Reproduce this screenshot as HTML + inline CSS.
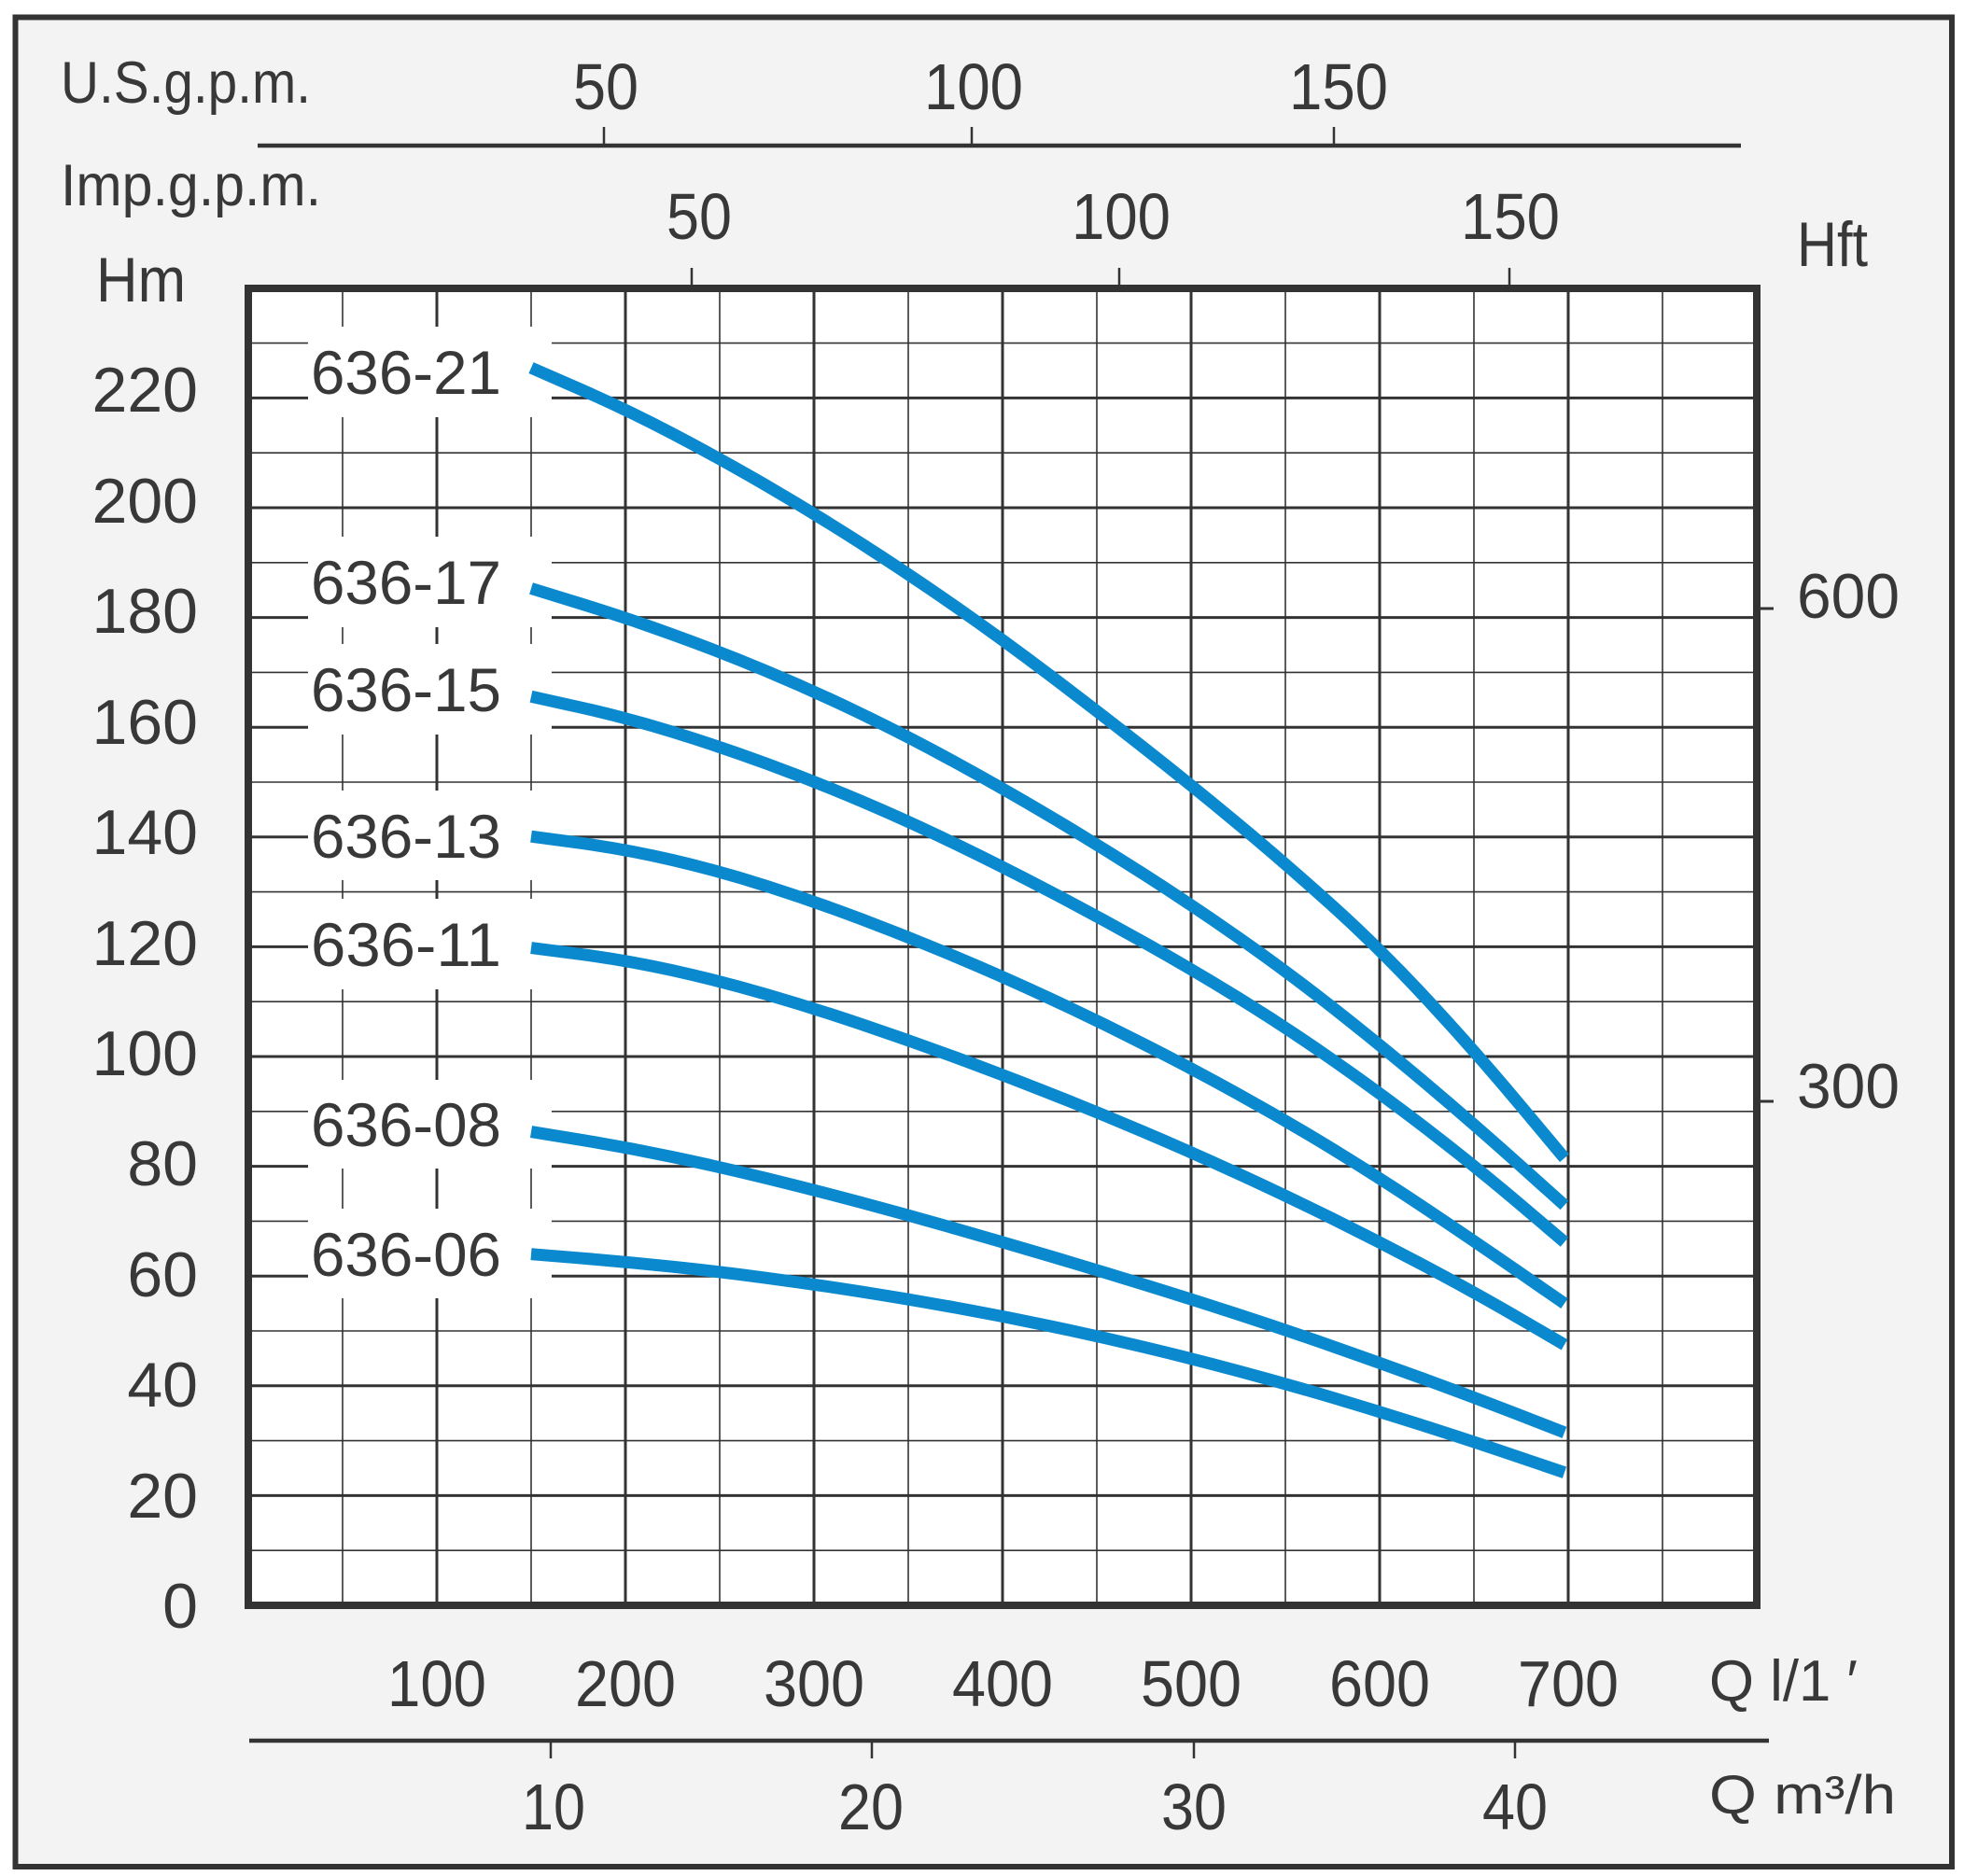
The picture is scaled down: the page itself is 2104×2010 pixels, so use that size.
<!DOCTYPE html>
<html>
<head>
<meta charset="utf-8">
<style>
  html, body { margin: 0; padding: 0; background: #ffffff; }
  svg { display: block; }
  text { font-family: "Liberation Sans", "DejaVu Sans", sans-serif; fill: #383838; }
</style>
</head>
<body>
<svg width="2104" height="2010" viewBox="0 0 2104 2010" xmlns="http://www.w3.org/2000/svg">
  <rect x="0" y="0" width="2104" height="2010" fill="#ffffff"/>
  <rect x="16.5" y="18.5" width="2074.5" height="1981.5" fill="#f3f3f3" stroke="#333333" stroke-width="6"/>

  <rect x="266" y="309" width="1616" height="1411" fill="#ffffff"/>

  <g stroke="#333333" stroke-width="1.6">
    <line x1="266" x2="1882" y1="1661.2" y2="1661.2"/>
    <line x1="266" x2="1882" y1="1543.6" y2="1543.6"/>
    <line x1="266" x2="1882" y1="1426" y2="1426"/>
    <line x1="266" x2="1882" y1="1308.4" y2="1308.4"/>
    <line x1="266" x2="1882" y1="1190.8" y2="1190.8"/>
    <line x1="266" x2="1882" y1="1073.2" y2="1073.2"/>
    <line x1="266" x2="1882" y1="955.6" y2="955.6"/>
    <line x1="266" x2="1882" y1="838" y2="838"/>
    <line x1="266" x2="1882" y1="720.4" y2="720.4"/>
    <line x1="266" x2="1882" y1="602.8" y2="602.8"/>
    <line x1="266" x2="1882" y1="485.2" y2="485.2"/>
    <line x1="266" x2="1882" y1="367.6" y2="367.6"/>
  </g>
  <g stroke="#333333" stroke-width="3">
    <line x1="266" x2="1882" y1="1602.4" y2="1602.4"/>
    <line x1="266" x2="1882" y1="1484.8" y2="1484.8"/>
    <line x1="266" x2="1882" y1="1367.2" y2="1367.2"/>
    <line x1="266" x2="1882" y1="1249.6" y2="1249.6"/>
    <line x1="266" x2="1882" y1="1132" y2="1132"/>
    <line x1="266" x2="1882" y1="1014.4" y2="1014.4"/>
    <line x1="266" x2="1882" y1="896.8" y2="896.8"/>
    <line x1="266" x2="1882" y1="779.2" y2="779.2"/>
    <line x1="266" x2="1882" y1="661.6" y2="661.6"/>
    <line x1="266" x2="1882" y1="544" y2="544"/>
    <line x1="266" x2="1882" y1="426.4" y2="426.4"/>
  </g>

  <g stroke="#333333" stroke-width="1.6">
    <line y1="309" y2="1720" x1="367" x2="367"/>
    <line y1="309" y2="1720" x1="569" x2="569"/>
    <line y1="309" y2="1720" x1="771" x2="771"/>
    <line y1="309" y2="1720" x1="973" x2="973"/>
    <line y1="309" y2="1720" x1="1175" x2="1175"/>
    <line y1="309" y2="1720" x1="1377" x2="1377"/>
    <line y1="309" y2="1720" x1="1579" x2="1579"/>
    <line y1="309" y2="1720" x1="1781" x2="1781"/>
  </g>
  <g stroke="#333333" stroke-width="3">
    <line y1="309" y2="1720" x1="468" x2="468"/>
    <line y1="309" y2="1720" x1="670" x2="670"/>
    <line y1="309" y2="1720" x1="872" x2="872"/>
    <line y1="309" y2="1720" x1="1074" x2="1074"/>
    <line y1="309" y2="1720" x1="1276" x2="1276"/>
    <line y1="309" y2="1720" x1="1478" x2="1478"/>
    <line y1="309" y2="1720" x1="1680" x2="1680"/>
  </g>

  <g fill="#ffffff">
    <rect x="330" y="350" width="261" height="97"/>
    <rect x="330" y="575" width="261" height="97"/>
    <rect x="330" y="690" width="261" height="97"/>
    <rect x="330" y="847" width="261" height="96"/>
    <rect x="330" y="963" width="261" height="97"/>
    <rect x="330" y="1157" width="261" height="95"/>
    <rect x="330" y="1295" width="261" height="96"/>
  </g>

  <rect x="266" y="309" width="1616" height="1411" fill="none" stroke="#333333" stroke-width="8"/>

  <g font-size="66">
    <text x="333" y="422" textLength="204" lengthAdjust="spacingAndGlyphs">636-21</text>
    <text x="333" y="647" textLength="204" lengthAdjust="spacingAndGlyphs">636-17</text>
    <text x="333" y="762" textLength="204" lengthAdjust="spacingAndGlyphs">636-15</text>
    <text x="333" y="919" textLength="204" lengthAdjust="spacingAndGlyphs">636-13</text>
    <text x="333" y="1035" textLength="204" lengthAdjust="spacingAndGlyphs">636-11</text>
    <text x="333" y="1228" textLength="204" lengthAdjust="spacingAndGlyphs">636-08</text>
    <text x="333" y="1367" textLength="204" lengthAdjust="spacingAndGlyphs">636-06</text>
  </g>

  <g transform="matrix(2.02 0 0 -5.88 266 1720)" fill="none" stroke="#0a89cf" stroke-width="13" stroke-linejoin="round" stroke-linecap="butt">
    <path vector-effect="non-scaling-stroke" d="M150,225.5 L175,221.75 Q200,218 225,213.5 Q250,209 275,204 Q300,199 325,193.5 Q350,188 375,182 Q400,176 425,169.5 Q450,163 475,156.25 Q500,149.5 525,142.35 Q550,135.2 575,127.45 Q600,119.7 625,110.45 Q650,101.2 674,91.35 L698,81.5"/>
    <path vector-effect="non-scaling-stroke" d="M150,185.3 L175,182.65 Q200,180 225,176.9 Q250,173.8 275,170.2 Q300,166.6 325,162.45 Q350,158.3 375,153.6 Q400,148.9 425,143.8 Q450,138.7 475,133.2 Q500,127.7 525,121.7 Q550,115.7 575,108.95 Q600,102.2 625,94.95 Q650,87.7 674,80.3 L698,72.9"/>
    <path vector-effect="non-scaling-stroke" d="M150,165.6 L175,163.7 Q200,161.8 225,159.15 Q250,156.5 275,153.35 Q300,150.2 325,146.55 Q350,142.9 375,138.75 Q400,134.6 425,130.1 Q450,125.6 475,120.8 Q500,116 525,110.7 Q550,105.4 575,99.4 Q600,93.4 625,86.8 Q650,80.2 674,73.2 L698,66.2"/>
    <path vector-effect="non-scaling-stroke" d="M150,140.1 L175,138.95 Q200,137.8 225,135.8 Q250,133.8 275,131.05 Q300,128.3 325,125.05 Q350,121.8 375,118.2 Q400,114.6 425,110.6 Q450,106.6 475,102.25 Q500,97.9 525,93.15 Q550,88.4 575,83.15 Q600,77.9 625,72.15 Q650,66.4 674,60.7 L698,55"/>
    <path vector-effect="non-scaling-stroke" d="M150,119.8 L175,118.7 Q200,117.6 225,115.7 Q250,113.8 275,111.3 Q300,108.8 325,105.9 Q350,103 375,99.85 Q400,96.7 425,93.3 Q450,89.9 475,86.25 Q500,82.6 525,78.65 Q550,74.7 575,70.45 Q600,66.2 625,61.65 Q650,57.1 674,52.3 L698,47.5"/>
    <path vector-effect="non-scaling-stroke" d="M150,86.3 L175,84.9 Q200,83.5 225,81.7 Q250,79.9 275,77.8 Q300,75.7 325,73.4 Q350,71.1 375,68.65 Q400,66.2 425,63.65 Q450,61.1 475,58.45 Q500,55.8 525,53 Q550,50.2 575,47.2 Q600,44.2 625,41.05 Q650,37.9 674,34.7 L698,31.5"/>
    <path vector-effect="non-scaling-stroke" d="M150,64 L175,63.3 Q200,62.6 225,61.7 Q250,60.8 275,59.65 Q300,58.5 325,57.15 Q350,55.8 375,54.25 Q400,52.7 425,50.9 Q450,49.1 475,47.05 Q500,45 525,42.7 Q550,40.4 575,37.85 Q600,35.3 625,32.55 Q650,29.8 674,27 L698,24.2"/>
  </g>

  <g font-size="68" text-anchor="end">
    <text x="212" y="441">220</text>
    <text x="212" y="560">200</text>
    <text x="212" y="678">180</text>
    <text x="212" y="797">160</text>
    <text x="212" y="915">140</text>
    <text x="212" y="1034">120</text>
    <text x="212" y="1152">100</text>
    <text x="212" y="1270">80</text>
    <text x="212" y="1389">60</text>
    <text x="212" y="1507">40</text>
    <text x="212" y="1626">20</text>
    <text x="212" y="1744">0</text>
  </g>
  <text x="103" y="323" font-size="68" textLength="96" lengthAdjust="spacingAndGlyphs">Hm</text>

  <text x="65" y="110" font-size="63" textLength="268" lengthAdjust="spacingAndGlyphs">U.S.g.p.m.</text>
  <text x="65" y="220" font-size="63" textLength="279" lengthAdjust="spacingAndGlyphs">Imp.g.p.m.</text>
  <line x1="276" x2="1865" y1="156" y2="156" stroke="#333333" stroke-width="4.5"/>
  <g stroke="#333333" stroke-width="2.5">
    <line x1="647" x2="647" y1="136" y2="156"/>
    <line x1="1041" x2="1041" y1="136" y2="156"/>
    <line x1="1429" x2="1429" y1="136" y2="156"/>
    <line x1="741" x2="741" y1="287" y2="306"/>
    <line x1="1199" x2="1199" y1="287" y2="306"/>
    <line x1="1617" x2="1617" y1="287" y2="306"/>
  </g>
  <g font-size="70" text-anchor="middle">
    <text x="649" y="117" textLength="70" lengthAdjust="spacingAndGlyphs">50</text>
    <text x="1043" y="117" textLength="106" lengthAdjust="spacingAndGlyphs">100</text>
    <text x="1434" y="117" textLength="106" lengthAdjust="spacingAndGlyphs">150</text>
    <text x="749" y="256" textLength="70" lengthAdjust="spacingAndGlyphs">50</text>
    <text x="1201" y="256" textLength="106" lengthAdjust="spacingAndGlyphs">100</text>
    <text x="1618" y="256" textLength="106" lengthAdjust="spacingAndGlyphs">150</text>
  </g>

  <text x="1925" y="285" font-size="68" textLength="76" lengthAdjust="spacingAndGlyphs">Hft</text>
  <g stroke="#333333" stroke-width="3">
    <line x1="1886" x2="1900" y1="652" y2="652"/>
    <line x1="1886" x2="1900" y1="1180" y2="1180"/>
  </g>
  <g font-size="68">
    <text x="1925" y="662" textLength="110" lengthAdjust="spacingAndGlyphs">600</text>
    <text x="1925" y="1187" textLength="110" lengthAdjust="spacingAndGlyphs">300</text>
  </g>

  <g font-size="70" text-anchor="middle">
    <text x="468" y="1828" textLength="106" lengthAdjust="spacingAndGlyphs">100</text>
    <text x="670" y="1828" textLength="108" lengthAdjust="spacingAndGlyphs">200</text>
    <text x="872" y="1828" textLength="108" lengthAdjust="spacingAndGlyphs">300</text>
    <text x="1074" y="1828" textLength="108" lengthAdjust="spacingAndGlyphs">400</text>
    <text x="1276" y="1828" textLength="108" lengthAdjust="spacingAndGlyphs">500</text>
    <text x="1478" y="1828" textLength="108" lengthAdjust="spacingAndGlyphs">600</text>
    <text x="1680" y="1828" textLength="108" lengthAdjust="spacingAndGlyphs">700</text>
  </g>
  <text x="1831" y="1822" font-size="62" textLength="159" lengthAdjust="spacingAndGlyphs">Q l/1 ′</text>

  <line x1="267" x2="1895" y1="1865" y2="1865" stroke="#333333" stroke-width="4.5"/>
  <g stroke="#333333" stroke-width="2.5">
    <line x1="590" x2="590" y1="1867" y2="1884"/>
    <line x1="934" x2="934" y1="1867" y2="1884"/>
    <line x1="1279" x2="1279" y1="1867" y2="1884"/>
    <line x1="1623" x2="1623" y1="1867" y2="1884"/>
  </g>
  <g font-size="70" text-anchor="middle">
    <text x="593" y="1960" textLength="68" lengthAdjust="spacingAndGlyphs">10</text>
    <text x="933" y="1960" textLength="70" lengthAdjust="spacingAndGlyphs">20</text>
    <text x="1279" y="1960" textLength="70" lengthAdjust="spacingAndGlyphs">30</text>
    <text x="1623" y="1960" textLength="70" lengthAdjust="spacingAndGlyphs">40</text>
  </g>
  <text x="1831" y="1943" font-size="58" textLength="200" lengthAdjust="spacingAndGlyphs">Q m³/h</text>
</svg>
</body>
</html>
